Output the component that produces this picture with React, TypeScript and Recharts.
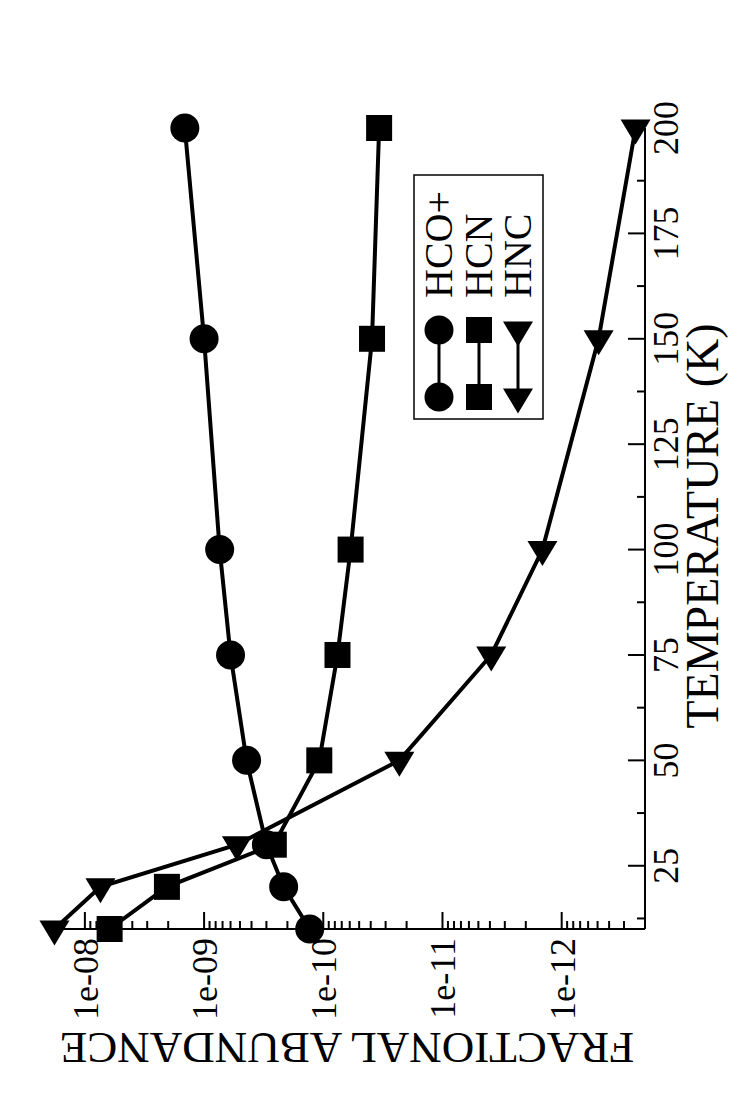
import { LineChart, Line, XAxis, YAxis, Customized } from 'recharts';

// temperature (K) and fractional abundances
const temperatures = [10, 20, 30, 50, 75, 100, 150, 200];
const hcoPlus = [1.3e-10, 2.15e-10, 3.0e-10, 4.4e-10, 6.0e-10, 7.4e-10, 1.0e-9, 1.45e-9];
const hcn = [6.2e-9, 2.05e-9, 2.6e-10, 1.08e-10, 7.6e-11, 5.9e-11, 3.9e-11, 3.4e-11];
const hnc = [1.8e-8, 7.4e-9, 5.3e-10, 2.3e-11, 3.9e-12, 1.45e-12, 4.9e-13, 2.4e-13];

const seriesNames = ['HCO+', 'HCN', 'HNC'];

const tempMajorTicks = [25, 50, 75, 100, 125, 150, 175, 200];
const tempMinorTicks = [12.5, 37.5, 62.5, 87.5, 112.5, 137.5, 162.5, 187.5];
const abundMajorTicks = [1e-8, 1e-9, 1e-10, 1e-11, 1e-12];
const abundTickLabels = ['1e-08', '1e-09', '1e-10', '1e-11', '1e-12'];
const decades = [-13, -12, -11, -10, -9];
const mantissas = [2, 3, 4, 5, 6, 7, 8, 9];

const abundMinorTicks = [
  ...decades.flatMap((d) => mantissas.map((m) => Number(`${m}e${d}`))),
  2e-8,
];

const FONT = "'Liberation Serif', 'DejaVu Serif', serif";
const W = 1100;
const H = 746;

const data = temperatures.map((t, i) => ({ t, hco: hcoPlus[i], hcn: hcn[i], hnc: hnc[i] }));

const isTempMajor = (v: number) => tempMajorTicks.includes(v);
const abundIndex = (v: number) => abundMajorTicks.findIndex((m) => Math.abs(v - m) / m < 1e-6);

const labelStyle = (size: number) => ({ fontSize: size, fontFamily: FONT, fill: '#000' });

// markers (the chart is drawn sideways, so "left" triangles end up pointing down on the page)
function Marker({ kind, cx, cy }: { kind: number; cx: number; cy: number }) {
  if (kind === 0) return <circle cx={cx} cy={cy} r={14.5} fill="#000" />;
  if (kind === 1) return <rect x={cx - 13} y={cy - 13} width={26} height={26} fill="#000" />;
  return (
    <polygon
      points={`${cx - 16.5},${cy} ${cx + 8.5},${cy - 15} ${cx + 8.5},${cy + 15}`}
      fill="#000"
    />
  );
}

const makeDot = (kind: number) => (p: any) => (
  <Marker key={`m-${kind}-${p.index}`} kind={kind} cx={p.cx} cy={p.cy} />
);

const BottomTick = (p: any) => {
  const v = p.payload.value;
  const major = isTempMajor(v);
  return (
    <g>
      <line x1={p.x} x2={p.x} y1={p.y} y2={p.y - (major ? 17 : 8)} stroke="#000" strokeWidth={2} />
      {major && (
        <text x={p.x} y={p.y + 33} textAnchor="middle" style={labelStyle(36)}>
          {v}
        </text>
      )}
    </g>
  );
};

const TopTick = (p: any) => {
  const major = isTempMajor(p.payload.value);
  return <line x1={p.x} x2={p.x} y1={p.y} y2={p.y + (major ? 17 : 8)} stroke="#000" strokeWidth={2} />;
};

const LeftTick = (p: any) => {
  const idx = abundIndex(p.payload.value);
  const major = idx >= 0;
  return (
    <g>
      <line x1={p.x} x2={p.x + (major ? 17 : 8)} y1={p.y} y2={p.y} stroke="#000" strokeWidth={2} />
      {major && (
        <text x={p.x - 9} y={p.y + 13} textAnchor="end" style={labelStyle(36)}>
          {abundTickLabels[idx]}
        </text>
      )}
    </g>
  );
};

const RightTick = (p: any) => {
  const major = abundIndex(p.payload.value) >= 0;
  return <line x1={p.x} x2={p.x - (major ? 17 : 8)} y1={p.y} y2={p.y} stroke="#000" strokeWidth={2} />;
};

// axis titles and legend box
const Decorations = () => {
  const rows = [439, 479, 518];
  return (
    <g>
      <text x={574} y={718} textAnchor="middle" style={labelStyle(46)}>
        TEMPERATURE (K)
      </text>
      <text x={67} y={347} textAnchor="middle" transform="rotate(-90 67 347)" style={labelStyle(45)}>
        FRACTIONAL ABUNDANCE
      </text>
      <rect x={681} y={414} width={244} height={129} fill="#fff" stroke="#000" strokeWidth={1.5} />
      {seriesNames.map((name, i) => (
        <g key={name}>
          <line x1={703} x2={770} y1={rows[i]} y2={rows[i]} stroke="#000" strokeWidth={3} />
          <Marker kind={i} cx={703} cy={rows[i]} />
          <Marker kind={i} cx={770} cy={rows[i]} />
          <text x={802} y={rows[i] + 13} style={labelStyle(40)}>
            {name}
          </text>
        </g>
      ))}
    </g>
  );
};

export default function App() {
  const tempTicks = [...tempMinorTicks, ...tempMajorTicks].sort((a, b) => a - b);
  const abundTicks = [...abundMinorTicks, ...abundMajorTicks].sort((a, b) => a - b);
  return (
    <div
      style={{
        position: 'absolute',
        left: 0,
        top: 0,
        width: W,
        height: H,
        background: '#fff',
        transform: `translateY(${W}px) rotate(-90deg)`,
        transformOrigin: '0 0',
        fontFamily: FONT,
      }}
    >
      <LineChart width={W} height={H} data={data} margin={{ top: 49, right: 128, bottom: 41, left: 51 }}>
        <XAxis
          xAxisId="b"
          dataKey="t"
          type="number"
          domain={[10, 200]}
          ticks={tempTicks}
          interval={0}
          height={60}
          tickSize={0}
          tickMargin={0}
          tickLine={false}
          axisLine={{ stroke: '#000', strokeWidth: 2 }}
          tick={BottomTick}
        />
        <XAxis
          xAxisId="t"
          orientation="top"
          dataKey="t"
          type="number"
          domain={[10, 200]}
          ticks={tempTicks}
          interval={0}
          height={0}
          tickSize={0}
          tickMargin={0}
          tickLine={false}
          axisLine={{ stroke: '#000', strokeWidth: 2 }}
          tick={TopTick}
        />
        <YAxis
          yAxisId="l"
          type="number"
          scale="log"
          domain={[2e-13, 2e-8]}
          ticks={abundTicks}
          interval={0}
          width={120}
          tickSize={0}
          tickMargin={0}
          tickLine={false}
          axisLine={{ stroke: '#000', strokeWidth: 2 }}
          tick={LeftTick}
        />
        <YAxis
          yAxisId="r"
          orientation="right"
          type="number"
          scale="log"
          domain={[2e-13, 2e-8]}
          ticks={abundTicks}
          interval={0}
          width={0}
          tickSize={0}
          tickMargin={0}
          tickLine={false}
          axisLine={{ stroke: '#000', strokeWidth: 2 }}
          tick={RightTick}
        />
        <Line xAxisId="b" yAxisId="l" dataKey="hco" name="HCO+" stroke="#000" strokeWidth={4} dot={makeDot(0)} isAnimationActive={false} />
        <Line xAxisId="b" yAxisId="l" dataKey="hcn" name="HCN" stroke="#000" strokeWidth={4} dot={makeDot(1)} isAnimationActive={false} />
        <Line xAxisId="b" yAxisId="l" dataKey="hnc" name="HNC" stroke="#000" strokeWidth={4} dot={makeDot(2)} isAnimationActive={false} />
        <Customized component={Decorations} />
      </LineChart>
    </div>
  );
}
